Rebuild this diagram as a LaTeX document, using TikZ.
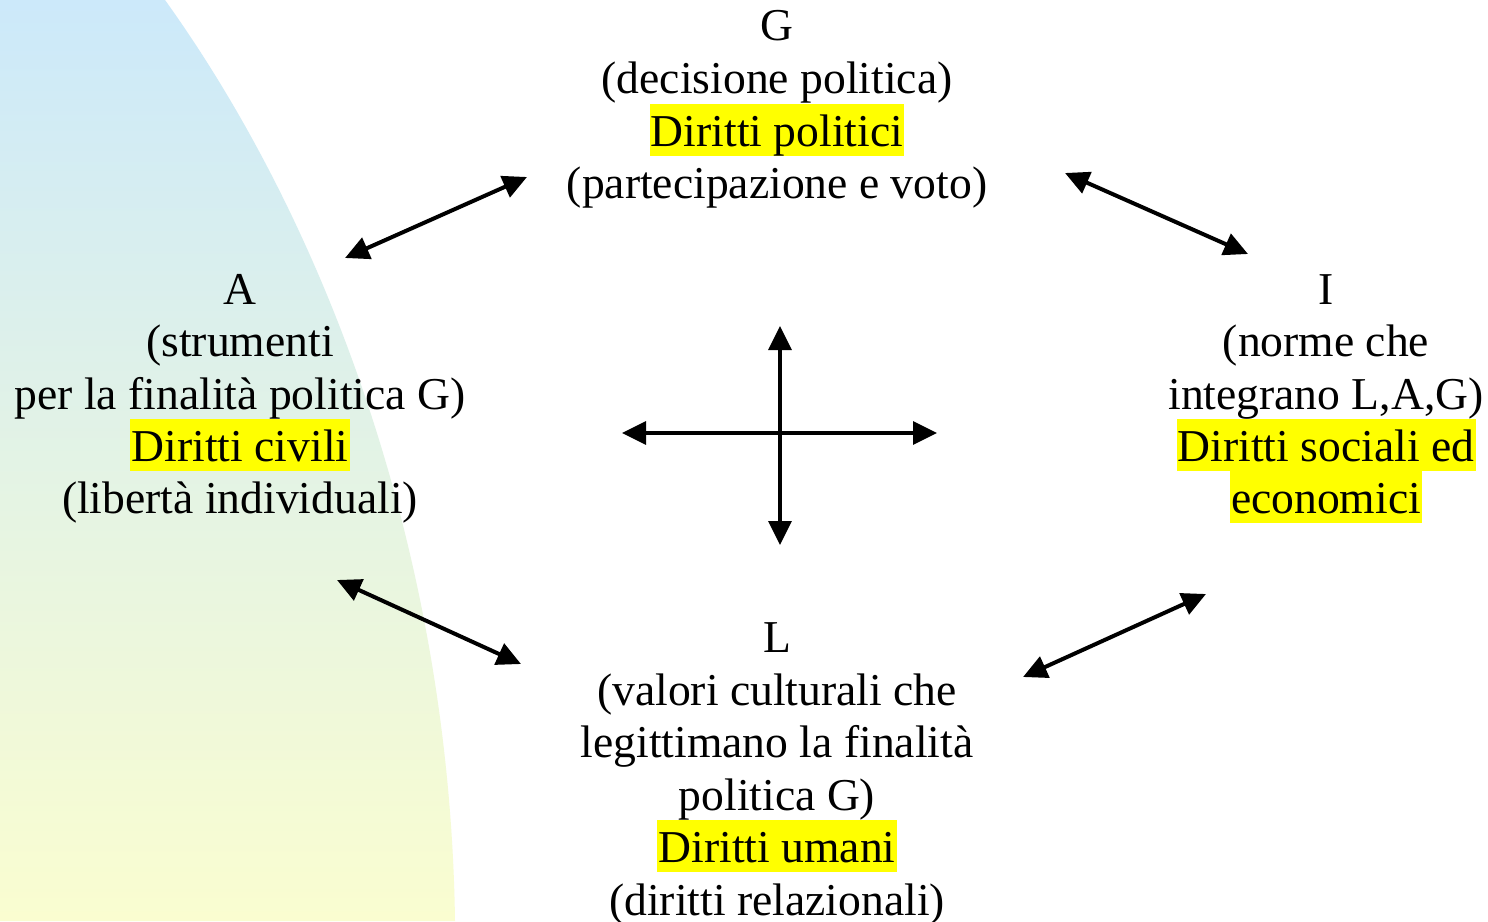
\documentclass[tikz,border=0pt]{standalone}
\usepackage{fontspec}
\setmainfont{Liberation Serif}
\usetikzlibrary{arrows.meta}
\definecolor{bgtop}{RGB}{204,233,250}
\definecolor{bgbot}{RGB}{250,253,208}
\definecolor{hl}{RGB}{255,255,0}
\tikzset{
  txt/.style={anchor=base, inner sep=0pt, font=\fontsize{34.2}{38}\selectfont},
  hil/.style={txt, fill=hl, inner xsep=1pt, text height=31.5pt, text depth=7.5pt},
  link/.style={line width=3pt, {Triangle[length=18pt,width=17pt]}-{Triangle[length=18pt,width=17pt]}}
}
\begin{document}
\begin{tikzpicture}[x=0.75pt,y=-0.75pt]
\useasboundingbox (0,0) rectangle (1488,921);
\fill[white] (0,0) rectangle (1488,921);
\shade[top color=bgtop, bottom color=bgbot] (0,0) -- (165,0) .. controls (330,230) and (450,560) .. (455,921) -- (0,921) -- cycle;

% G
\node[txt] (g1) at (777,40) {G};
\node[txt] (g2) at (777,93) {(decisione politica)};
\node[hil] (g3) at (777,146) {Diritti politici};
\node[txt] (g4) at (777,198) {(partecipazione e voto)};

% A
\node[txt] (a1) at (240,304) {A};
\node[txt] (a2) at (240,356) {(strumenti};
\node[txt] (a3) at (240,409) {per la finalità politica G)};
\node[hil] (a4) at (240,461) {Diritti civili};
\node[txt] (a5) at (240,513) {(libertà individuali)};

% I
\node[txt] (i1) at (1326,304) {I};
\node[txt] (i2) at (1326,356) {(norme che};
\node[txt] (i3) at (1326,409) {integrano L,A,G)};
\node[hil] (i4) at (1326,461) {Diritti sociali ed};
\node[hil] (i5) at (1326,513) {economici};

% L
\node[txt] (l1) at (777,652) {L};
\node[txt] (l2) at (777,705) {(valori culturali che};
\node[txt] (l3) at (777,757) {legittimano la finalità};
\node[txt] (l4) at (777,810) {politica G)};
\node[hil] (l5) at (777,862) {Diritti umani};
\node[txt] (l6) at (777,915) {(diritti relazionali)};

% arrow end points
\coordinate (ga) at (345,258);
\coordinate (ag) at (527,177);
\coordinate (gi) at (1065,173);
\coordinate (ig) at (1248,254);
\coordinate (al) at (337,580);
\coordinate (la) at (521,664);
\coordinate (li) at (1023,677);
\coordinate (il) at (1206,594);
\coordinate (cw) at (622,433);
\coordinate (ce) at (937,433);
\coordinate (cn) at (780,326);
\coordinate (cs) at (780,545);

\draw[link] (ga) -- (ag);
\draw[link] (gi) -- (ig);
\draw[link] (al) -- (la);
\draw[link] (li) -- (il);
\draw[link] (cw) -- (ce);
\draw[link] (cn) -- (cs);
\end{tikzpicture}
\end{document}
